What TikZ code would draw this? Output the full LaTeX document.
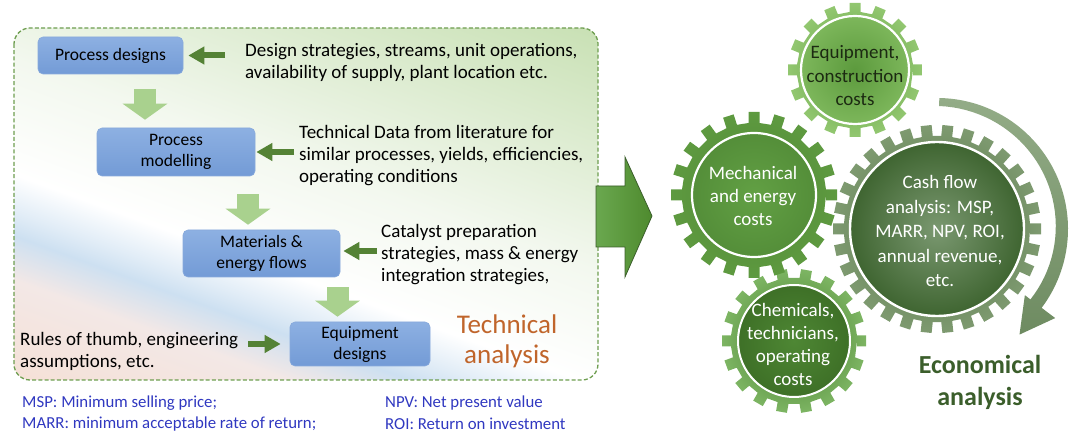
\documentclass[tikz,border=0pt]{standalone}
\usepackage{fontspec}
\setmainfont{Carlito}
\usetikzlibrary{arrows.meta,calc}
\definecolor{dgreen}{HTML}{548235}
\definecolor{lgreen}{HTML}{A9D18E}
\definecolor{boxtop}{HTML}{8DB0E2}
\definecolor{boxbot}{HTML}{739BD6}
\definecolor{techc}{HTML}{C0652B}
\definecolor{footc}{HTML}{3038C0}
\definecolor{econc}{HTML}{3B5E2B}
\definecolor{dashc}{HTML}{6E9E50}
\definecolor{bgpink}{HTML}{F5E0D6}
\definecolor{bgpink2}{HTML}{F3E8E6}
\definecolor{bgblue}{HTML}{CDE0F1}
\definecolor{bggreen0}{HTML}{F3F8EF}
\definecolor{bggreen}{HTML}{C4DEAE}
\definecolor{arrc1}{HTML}{93AC87}
\definecolor{arrc2}{HTML}{6E8B61}
\definecolor{bigA}{HTML}{6AA84F}
\definecolor{bigB}{HTML}{4E8A2E}
\definecolor{chemA}{HTML}{3F7526}
\definecolor{chemB}{HTML}{7DB563}
\definecolor{chemC}{HTML}{4E8734}
\definecolor{chemD}{HTML}{3E7027}
\definecolor{cashA}{HTML}{4F6F42}
\definecolor{cashB}{HTML}{7E9A70}
\definecolor{cashC}{HTML}{7A9870}
\definecolor{cashD}{HTML}{3F6531}
\definecolor{mechA}{HTML}{4F8634}
\definecolor{mechB}{HTML}{5E9A40}
\definecolor{mechC}{HTML}{62A044}
\definecolor{mechD}{HTML}{548E39}
\definecolor{topA}{HTML}{5E9C3F}
\definecolor{topB}{HTML}{92C770}
\definecolor{topC}{HTML}{5C9A3D}
\definecolor{topD}{HTML}{7DB75B}
\definecolor{toptext}{HTML}{1C2A12}
\pgfdeclarehorizontalshading{techbg}{100bp}{color(0bp)=(bgpink); color(35bp)=(bgpink); color(40.5bp)=(bgpink2); color(42.8bp)=(bgblue); color(44bp)=(bgblue!60!white); color(46bp)=(white); color(52bp)=(bggreen0); color(66bp)=(bggreen); color(100bp)=(bggreen)}
\newcommand\gearteeth[4]{%
 (0:#2) \foreach \i in {1,...,#1}{%
  -- ([shift={(\i*360/#1-90:#4)}]\i*360/#1:#2)
  -- ([shift={(\i*360/#1-90:#4)}]\i*360/#1:#3)
  -- ([shift={(\i*360/#1+90:#4)}]\i*360/#1:#3)
  -- ([shift={(\i*360/#1+90:#4)}]\i*360/#1:#2)
 } -- cycle}
\tikzset{
  pbox/.style={rectangle, rounded corners=5pt, top color=boxtop, bottom color=boxbot, draw=boxbot!85!white, line width=0.6pt, align=center, inner sep=2pt, font=\fontsize{17.5}{21}\selectfont},
  note/.style={anchor=west, inner sep=0pt, align=left, font=\fontsize{19}{22}\selectfont},
  foot/.style={anchor=west, inner sep=0pt, text=footc, font=\fontsize{16.8}{19}\selectfont},
  sidearrow/.style={draw=dgreen, line width=6pt, -{Triangle[length=16pt,width=17pt]}},
  downarrow/.style={draw=lgreen, line width=22pt, -{Triangle[length=16pt,width=44pt]}},
  geartext/.style={align=center, inner sep=0pt, text=white, font=\fontsize{19}{23}\selectfont}
}
\begin{document}
\begin{tikzpicture}[x=1pt,y=-1pt]
\useasboundingbox (0,0) rectangle (1080,443);
% ---------- technical panel background
\begin{scope}
\clip[rounded corners=16pt] (14,28) rectangle (598,380);
\begin{scope}[transform canvas={shift={(306,204)},rotate=70}]
\shade[shading=techbg] (-450,-450) rectangle (450,450);
\end{scope}
\end{scope}
\draw[dashc, line width=1.3pt, dash pattern=on 4pt off 2.2pt, rounded corners=16pt] (14,28) rectangle (598,380);
% ---------- boxes
\node[pbox, minimum width=145pt, minimum height=37pt] (b1) at (110.5,55.5) {Process designs};
\node[pbox, minimum width=158pt, minimum height=48pt] (b2) at (176,152) {Process\\modelling};
\node[pbox, minimum width=157pt, minimum height=47pt] (b3) at (261.5,253.5) {Materials \&\\energy flows};
\node[pbox, minimum width=140pt, minimum height=44pt] (b4) at (360,344) {Equipment\\designs};
% ---------- notes
\node[note] (t1) at (245,62) {Design strategies, streams, unit operations,\\availability of supply, plant location etc.};
\node[note] (t2) at (299,156) {Technical Data from literature for\\similar processes, yields, efficiencies,\\operating conditions};
\node[note] (t3) at (381,255) {Catalyst preparation\\strategies, mass \& energy\\integration strategies,};
\node[note] (t4) at (20,351) {Rules of thumb, engineering\\assumptions, etc.};
% ---------- side arrows
\coordinate (y3) at (0,251);
\draw[sidearrow, shorten <=20pt, shorten >=5pt] (t1.west |- b1.east) -- (b1.east);
\draw[sidearrow, shorten <=5pt, shorten >=1pt] (t2.west |- b2.east) -- (b2.east);
\draw[sidearrow, shorten <=4pt, shorten >=3pt] (t3.west |- y3) -- (b3.east |- y3);
\draw[sidearrow, shorten <=10pt, shorten >=9pt] (t4.east |- b4.west) -- (b4.west);
% ---------- down arrows
\coordinate (x1) at (145,0);
\coordinate (x2) at (248,0);
\coordinate (x3) at (337.5,0);
\draw[downarrow, shorten <=14.5pt, shorten >=8pt] (b1.south -| x1) -- (b2.north -| x1);
\draw[downarrow, shorten <=18pt, shorten >=5pt] (b2.south -| x2) -- (b3.north -| x2);
\draw[downarrow, shorten <=10pt, shorten >=5pt] (b3.south -| x3) -- (b4.north -| x3);
% ---------- technical analysis
\node[align=center, inner sep=0pt, text=techc, font=\fontsize{27}{30}\selectfont] (tech) at (507,341) {Technical\\analysis};
% ---------- footer
\node[foot] (f1) at (22,403) {MSP: Minimum selling price;};
\node[foot] (f2) at (22,424) {MARR: minimum acceptable rate of return;};
\node[foot] (f3) at (385,403) {NPV: Net present value};
\node[foot] (f4) at (385,424) {ROI: Return on investment};
% ---------- big block arrow
\shade[left color=bigA, right color=bigB] (596,186) -- (625,186) -- (625,157) -- (652,216) -- (625,277) -- (625,247) -- (596,247) -- cycle;
\draw[draw=econc, line width=0.8pt, line join=miter] (596,186) -- (625,186) -- (625,157) -- (652,216) -- (625,277) -- (625,247) -- (596,247) -- cycle;
% ---------- curved arrow
\coordinate (cc) at (937,229);
\shade[top color=arrc1, bottom color=arrc2] ($(cc)+(-89:131)$) arc[start angle=-89, end angle=37, radius=131] -- ($(cc)+(37:148)$) -- ($(cc)+(52:134)$) -- ($(cc)+(37:110)$) -- ($(cc)+(37:117)$) -- plot[domain=37:-89, samples=40] ({937+(117+(37-\x)*6/126)*cos(\x)}, {229+(117+(37-\x)*6/126)*sin(\x)}) -- cycle;
% ---------- gears
\begin{scope}[shift={(794,341)}]
 \shade[inner color=chemA, outer color=chemB] \gearteeth{18}{63}{72}{5.5};
 \shade[inner color=chemC, outer color=chemD] (0,0) circle[radius=56];
 \draw[white, line width=2pt] (0,0) circle[radius=56];
\end{scope}
\begin{scope}[shift={(937,229)}]
 \shade[inner color=cashA, outer color=cashB] \gearteeth{30}{93}{104}{5.5};
 \shade[inner color=cashC, outer color=cashD] (0,0) circle[radius=87];
 \draw[white, line width=2.4pt] (0,0) circle[radius=87];
\end{scope}
\begin{scope}[shift={(754,195)}]
 \shade[inner color=mechA, outer color=mechB] \gearteeth{20}{72}{83}{5.5};
 \shade[inner color=mechC, outer color=mechD] (0,0) circle[radius=62];
 \draw[white, line width=2.2pt] (0,0) circle[radius=62];
\end{scope}
\begin{scope}[shift={(855,70)}]
 \shade[inner color=topA, outer color=topB] \gearteeth{16}{58}{67}{5.5};
 \shade[inner color=topC, outer color=topD] (0,0) circle[radius=54];
 \draw[white, line width=2.2pt] (0,0) circle[radius=54];
\end{scope}
\node[geartext, text=toptext, font=\fontsize{19}{23.5}\selectfont] (g1) at (855,76) {Equipment,\\construction\\costs};
\node[geartext] (g2) at (753,196) {Mechanical\\and energy\\costs};
\node[geartext, font=\fontsize{19}{24.5}\selectfont] (g3) at (940,231) {Cash flow\\analysis: MSP,\\MARR, NPV, ROI,\\annual revenue,\\etc.};
\node[geartext] (g4) at (793,344) {Chemicals,\\technicians,\\operating\\costs};
% ---------- economical analysis
\node[align=center, inner sep=0pt, text=econc, font=\bfseries\fontsize{26}{32}\selectfont] (econ) at (980,382) {Economical\\analysis};
\end{tikzpicture}
\end{document}
